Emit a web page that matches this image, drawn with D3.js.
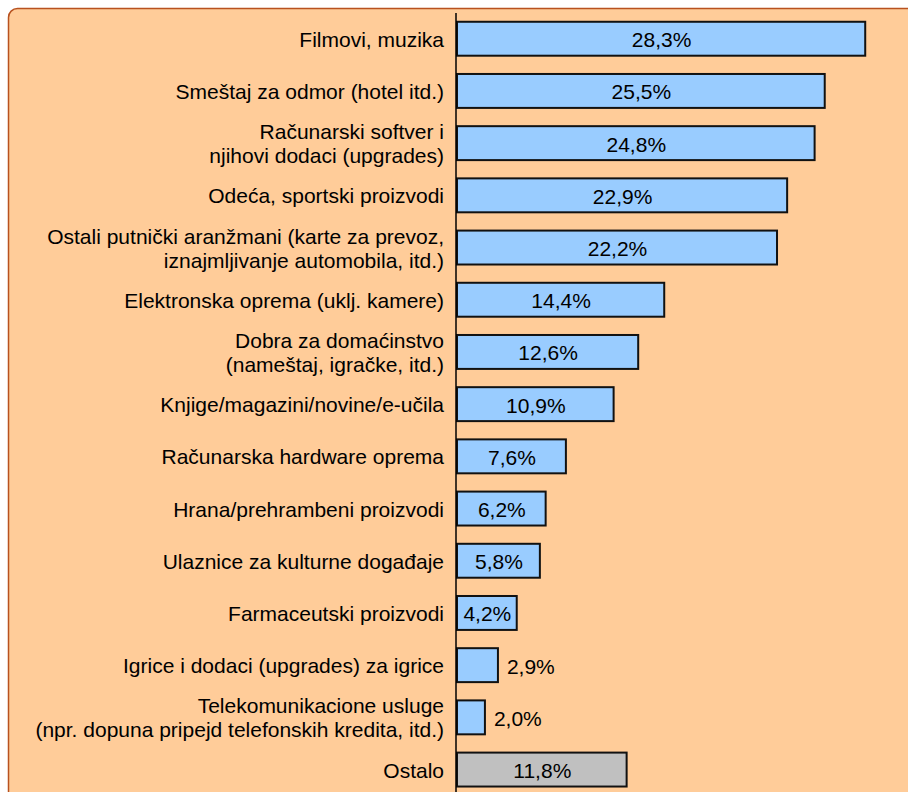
<!DOCTYPE html>
<html>
<head>
<meta charset="utf-8">
<script src="https://cdn.jsdelivr.net/npm/d3@7"></script>
<style>
  html, body { margin: 0; padding: 0; background: #ffffff; }
  svg { display: block; }
  text { font-family: "Liberation Sans", Arial, sans-serif; fill: #000; }
</style>
</head>
<body>
<svg id="chart" width="908" height="792"></svg>
<script>
// Categories (each entry is a list of label lines), shares in percent
const categories = [
  ["Filmovi, muzika"],
  ["Smeštaj za odmor (hotel itd.)"],
  ["Računarski softver i", "njihovi dodaci (upgrades)"],
  ["Odeća, sportski proizvodi"],
  ["Ostali putnički aranžmani (karte za prevoz,", "iznajmljivanje automobila, itd.)"],
  ["Elektronska oprema (uklj. kamere)"],
  ["Dobra za domaćinstvo", "(nameštaj, igračke, itd.)"],
  ["Knjige/magazini/novine/e-učila"],
  ["Računarska hardware oprema"],
  ["Hrana/prehrambeni proizvodi"],
  ["Ulaznice za kulturne događaje"],
  ["Farmaceutski proizvodi"],
  ["Igrice i dodaci (upgrades) za igrice"],
  ["Telekomunikacione usluge", "(npr. dopuna pripejd telefonskih kredita, itd.)"],
  ["Ostalo"]
];
const values = [28.3, 25.5, 24.8, 22.9, 22.2, 14.4, 12.6, 10.9, 7.6, 6.2, 5.8, 4.2, 2.9, 2.0, 11.8];
const valueLabels = ["28,3%", "25,5%", "24,8%", "22,9%", "22,2%", "14,4%", "12,6%", "10,9%", "7,6%", "6,2%", "5,8%", "4,2%", "2,9%", "2,0%", "11,8%"];
// the last category ("Ostalo") is drawn in grey
const barKinds = ["main", "main", "main", "main", "main", "main", "main", "main", "main", "main", "main", "main", "main", "main", "other"];

const svg = d3.select("#chart");
const W = 908, H = 792;
const axisX = 456;
const fontSize = 21;

const fills = { main: "#99CCFF", other: "#C0C0C0" };

// background panel, rounded top-left corner, running past the right and bottom edges
svg.append("rect")
  .attr("x", 8.5).attr("y", 8.5)
  .attr("width", W + 20).attr("height", H + 20)
  .attr("rx", 9).attr("ry", 9)
  .attr("fill", "#FFCC99")
  .attr("stroke", "#B8521F")
  .attr("stroke-width", 1.5);

const idx = d3.range(values.length);

const y = d3.scaleBand()
  .domain(idx)
  .range([3.5, 804.8])
  .padding(0.35);

const x = d3.scaleLinear()
  .domain([0, 30])
  .range([axisX, axisX + 30 * 14.46]);

// bars
svg.append("g").selectAll("rect")
  .data(idx)
  .join("rect")
  .attr("x", x(0) + 1)
  .attr("y", i => y(i))
  .attr("width", i => x(values[i]) - x(0) - 1)
  .attr("height", y.bandwidth())
  .attr("fill", i => fills[barKinds[i]])
  .attr("stroke", "#111")
  .attr("stroke-width", 2);

// category axis line
svg.append("line")
  .attr("x1", axisX).attr("x2", axisX)
  .attr("y1", 13).attr("y2", H)
  .attr("stroke", "#000")
  .attr("stroke-width", 1.5);

// category labels, right-aligned left of the axis
const lineH = 24;
const labels = svg.append("g")
  .selectAll("text")
  .data(idx)
  .join("text")
  .attr("text-anchor", "end")
  .attr("font-size", fontSize)
  .attr("dominant-baseline", "central");
labels.each(function(i) {
  const lines = categories[i];
  const cy = y(i) + y.bandwidth() / 2;
  const t = d3.select(this);
  lines.forEach((ln, k) => {
    t.append("tspan")
      .attr("x", axisX - 12)
      .attr("y", cy + (k - (lines.length - 1) / 2) * lineH)
      .text(ln);
  });
});

// value labels: centred inside wide bars, to the right of short ones
const vl = svg.append("g").selectAll("text")
  .data(idx)
  .join("text")
  .attr("font-size", fontSize)
  .attr("dominant-baseline", "central")
  .attr("y", i => y(i) + y.bandwidth() / 2 + 1)
  .text(i => valueLabels[i]);
vl.each(function(i) {
  const t = d3.select(this);
  const tw = this.getComputedTextLength();
  const bw = x(values[i]) - x(0);
  if (bw >= tw + 6) {
    t.attr("text-anchor", "middle").attr("x", x(0) + bw / 2 + 1);
  } else {
    t.attr("text-anchor", "start").attr("x", x(values[i]) + 9);
  }
});
</script>
</body>
</html>
